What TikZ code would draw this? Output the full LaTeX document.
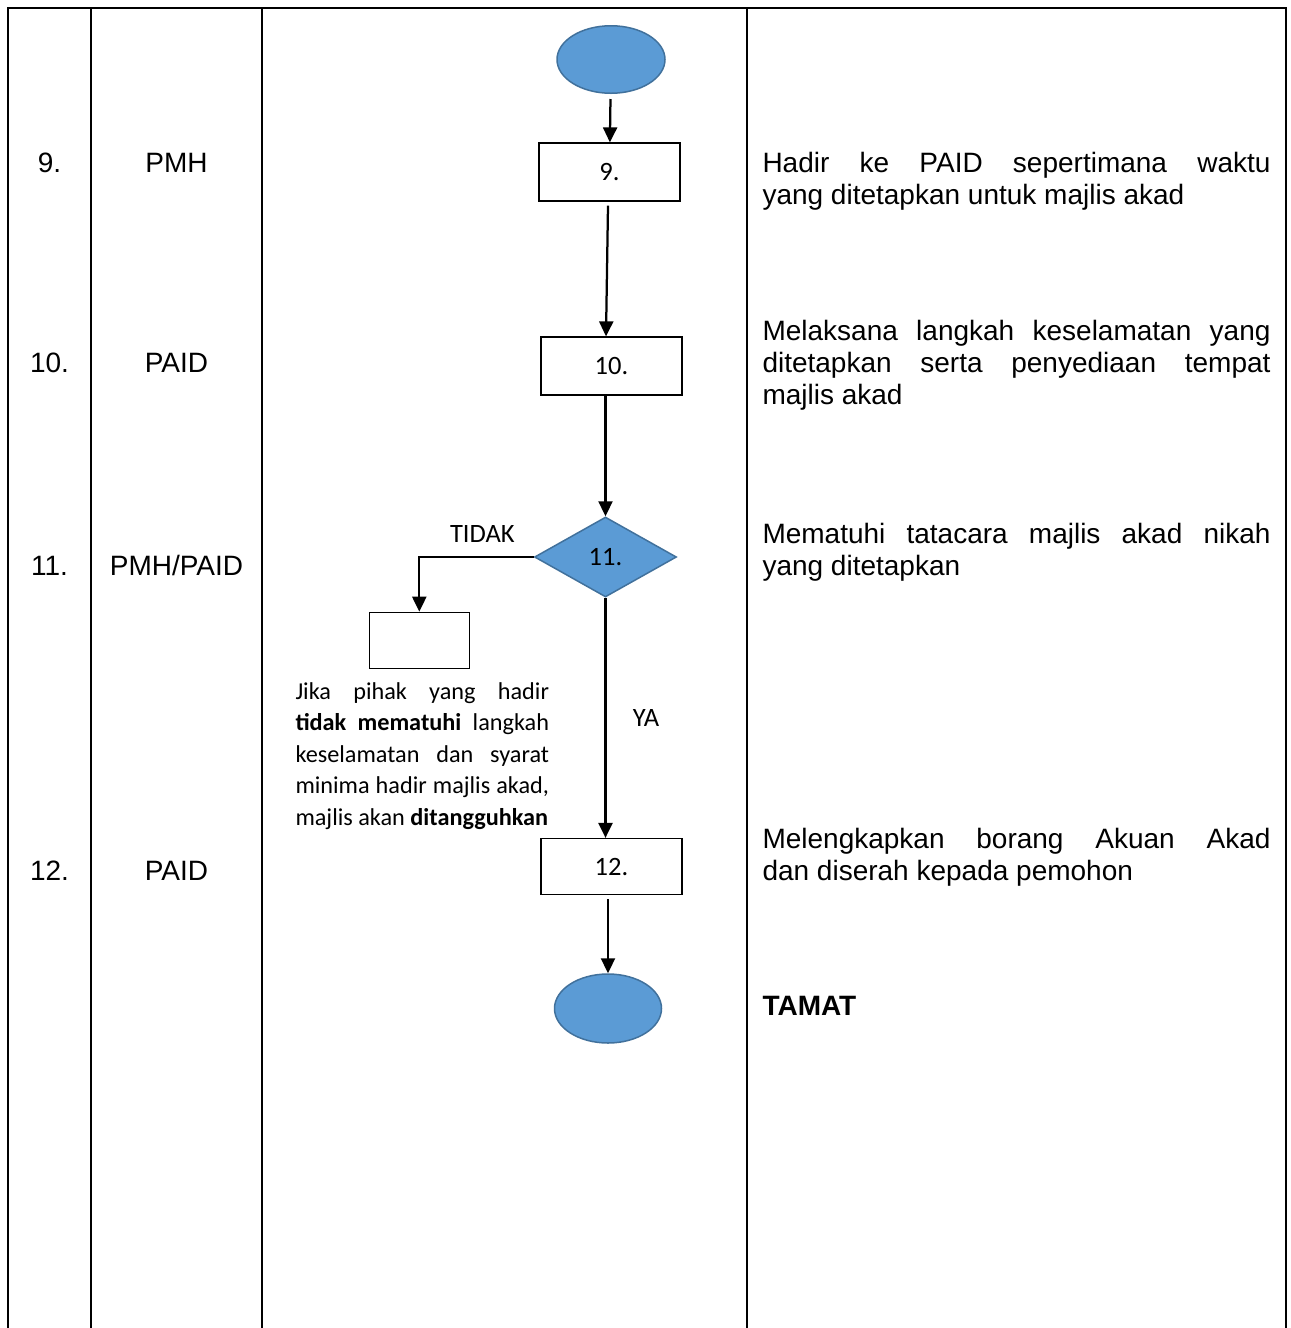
\documentclass[tikz,border=0pt]{standalone}
\usepackage{fontspec}
\setmainfont{Liberation Sans}
\newfontfamily\calibri{Carlito}
\usetikzlibrary{
  shapes.geometric, % "ellipse", "diamond"
  arrows.meta,
  positioning,
  calc,
}
\definecolor{termfill}{HTML}{5B9BD5}
\definecolor{termdraw}{HTML}{41719C}
\newcommand{\bodysize}{\fontsize{11.2}{12.8}\selectfont}
\newcommand{\flowsize}{\calibri\fontsize{10.6}{12}\selectfont}
\newcommand{\notesize}{\calibri\fontsize{9.7}{12.6}\selectfont}
\def\mybodywd{203.2pt}
\def\mynotewd{101.4pt}
\tikzset{
  tab line/.style={
    line width=0.8pt
  },
  row label/.style={
    inner sep=0mm,
    anchor=base,
    font=\bodysize
  },
  row text/.style={
    inner sep=0mm,
    anchor=base west,
    text width=\mybodywd,
    align=justify,
    font=\bodysize
  },
  my proc/.style={
    draw,
    line width=0.5pt,
    minimum width=56.4pt,
    minimum height=23.2pt,
    inner sep=0mm,
    font=\flowsize
  },
  my term/.style={
    ellipse,
    draw=termdraw,
    fill=termfill,
    line width=0.6pt,
    minimum width=43.2pt,
    minimum height=27pt
  },
  my decision/.style={
    diamond,
    draw=termdraw,
    fill=termfill,
    line width=0.6pt,
    minimum width=56.8pt,
    minimum height=32pt,
    inner sep=0mm,
    font=\flowsize
  },
  flow/.style={
    -{Triangle[length=6pt,width=5.6pt]},
    line width=0.9pt
  },
  flow label/.style={
    inner sep=0mm,
    anchor=base,
    font=\flowsize
  }
}

\begin{document}
\begin{tikzpicture}[x=0.4pt,y=-0.4pt]
\useasboundingbox (0,0) rectangle (1291,1328);

% table
\draw[tab line] (8,1328) -- (8,8) -- (1286,8) -- (1286,1328);
\foreach \xx in {91,262,747}
  \draw[tab line] (\xx,8) -- (\xx,1328);

% left columns
\foreach \num/\who/\yy in {9./PMH/172, 10./PAID/372, 11./{PMH/PAID}/575, 12./PAID/880}{
  \node[row label] (num\yy) at (49.5,\yy) {\num};
  \node[row label] (who\yy) at (176.5,\yy) {\who};
}

% flow chart
\node[my term] (start) at (611,59.5) {};
\node[my proc] (b9) at (609.5,172) {9.};
\node[my proc] (b10) at (611.5,366) {10.};
\node[my decision] (d11) at (605.5,557) {11.};
\node[my proc, minimum width=40pt, minimum height=22.4pt] (stop) at (419.3,640.3) {};
\node[my proc, minimum height=22.4pt] (b12) at (611.5,866.5) {12.};
\node[my term, minimum width=42.8pt, minimum height=27.6pt] (end) at (608,1008.5) {};

\draw[flow, shorten <=2pt] (start) -- (b9);
\draw[flow] ([xshift=-0.6pt,yshift=-1.6pt]b9.south) -- ([xshift=-2.2pt]b10.north);
\draw[flow] (d11.north |- b10.south) -- (d11.north);
\draw[flow] (d11.west) -| (stop.north);
\draw[flow] (d11.south) -- (d11.south |- b12.north);
\draw[flow, shorten <=1.6pt] (end.north |- b12.south) -- (end.north);

\node[flow label] (tidak) at (482.3,542.7) {TIDAK};
\node[flow label] (ya) at (646,726) {YA};
\node[inner sep=0mm, anchor=base west, text width=\mynotewd, align=justify,
      font=\notesize] (note) at (295,699)
  {Jika pihak yang hadir\linebreak \textbf{tidak mematuhi} langkah\linebreak
   keselamatan dan syarat\linebreak minima hadir majlis akad,\linebreak
   majlis akan \textbf{ditangguhkan}};

% right column
\node[row text] (t9) at (762,172)
  {Hadir ke PAID sepertimana waktu\linebreak yang ditetapkan untuk majlis akad};
\node[row text] (t10) at (762,340.7)
  {Melaksana langkah keselamatan yang\linebreak ditetapkan serta penyediaan tempat\linebreak majlis akad};
\node[row text] (t11) at (762,543)
  {Mematuhi tatacara majlis akad nikah\linebreak yang ditetapkan};
\node[row text] (t12) at (762,848)
  {Melengkapkan borang Akuan Akad\linebreak dan diserah kepada pemohon};
\node[row text] (tamat) at (762,1015) {\textbf{TAMAT}};
\end{tikzpicture}
\end{document}
